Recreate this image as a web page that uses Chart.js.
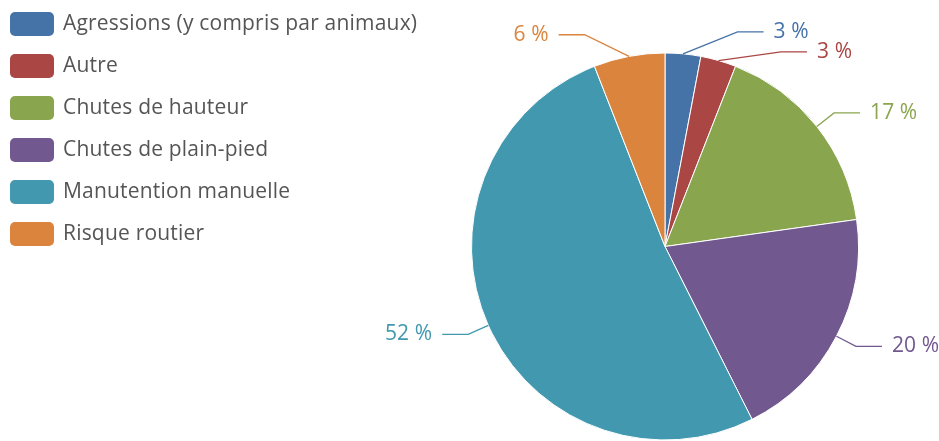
<!DOCTYPE html>
<html>
<head>
<meta charset="utf-8">
<script src="https://cdn.jsdelivr.net/npm/chart.js@4/dist/chart.umd.min.js"></script>
<style>
  html, body { margin: 0; padding: 0; background: #fff; }
  #wrap { width: 939px; height: 441px; position: relative; }
</style>
</head>
<body>
<div id="wrap"><canvas id="accidentChart"></canvas></div>
<script>
// Data
const categories = [
  "Agressions (y compris par animaux)",
  "Autre",
  "Chutes de hauteur",
  "Chutes de plain-pied",
  "Manutention manuelle",
  "Risque routier"
];
const shares = [3, 3, 17, 20, 52, 6];
const sliceColors = ["#4572A7", "#AA4643", "#89A54E", "#71588F", "#4198AF", "#DB843D"];

const FONT = '"Open Sans", "Noto Sans", sans-serif';

// Legend drawn on the left, rounded colour boxes
const sideLegend = {
  id: "sideLegend",
  afterDraw(chart) {
    const ctx = chart.ctx;
    const colors = chart.data.datasets[0].backgroundColor;
    ctx.save();
    ctx.font = "21px " + FONT;
    ctx.letterSpacing = "0.2px";
    ctx.textBaseline = "middle";
    ctx.textAlign = "left";
    chart.data.labels.forEach(function (label, i) {
      const top = 12 + i * 42;
      ctx.fillStyle = colors[i];
      ctx.beginPath();
      ctx.roundRect(10, top, 44, 24, 5);
      ctx.fill();
      ctx.fillStyle = "#555555";
      ctx.fillText(label, 63, top + 12);
    });
    ctx.restore();
  }
};

// Outside labels with leader lines
const pieLabels = {
  id: "pieLabels",
  afterDatasetsDraw(chart) {
    const ctx = chart.ctx;
    const meta = chart.getDatasetMeta(0);
    const ds = chart.data.datasets[0];
    const items = [];
    meta.data.forEach(function (arc, i) {
      const p = arc.getProps(["x", "y", "startAngle", "endAngle", "outerRadius"], true);
      const a = (p.startAngle + p.endAngle) / 2;
      const r = p.outerRadius;
      const r1 = r + 22;
      items.push({
        i: i, a: a, cx: p.x, cy: p.y, r: r,
        side: Math.cos(a) >= 0 ? 1 : -1,
        ey: p.y + r1 * Math.sin(a),
        rx: r1 * Math.cos(a),
        shifted: false
      });
    });

    [1, -1].forEach(function (side) {
      const list = items.filter(function (it) { return it.side === side; })
        .sort(function (a, b) { return a.ey - b.ey; });
      for (let k = 1; k < list.length; k++) {
        if (list[k].ey - list[k - 1].ey < 20) {
          list[k].ey = list[k - 1].ey + 20;
          list[k].shifted = true;
        }
      }
    });

    ctx.save();
    ctx.font = "21px " + FONT;
    ctx.letterSpacing = "0.1px";
    ctx.textBaseline = "middle";
    ctx.lineWidth = 1.3;
    items.forEach(function (it) {
      const color = ds.backgroundColor[it.i];
      let dx = Math.abs(it.rx);
      const dy = it.ey - it.cy;
      const ra = it.r + 33;
      if (it.shifted || Math.abs(Math.cos(it.a)) < 0.5) {
        dx = Math.max(dx, Math.sqrt(Math.max(ra * ra - dy * dy, 0)));
      }
      const sx = it.cx + it.r * Math.cos(it.a);
      const sy = it.cy + it.r * Math.sin(it.a);
      const ex = it.cx + it.side * dx;
      const hx = ex + it.side * 26;
      ctx.strokeStyle = color;
      ctx.beginPath();
      ctx.moveTo(sx, sy);
      ctx.lineTo(ex, it.ey);
      ctx.lineTo(hx, it.ey);
      ctx.stroke();
      ctx.fillStyle = color;
      ctx.textAlign = it.side > 0 ? "left" : "right";
      ctx.fillText(ds.data[it.i] + " %", hx + it.side * 10, it.ey);
    });
    ctx.restore();
  }
};

new Chart(document.getElementById("accidentChart"), {
  type: "pie",
  data: {
    labels: categories,
    datasets: [{
      data: shares,
      backgroundColor: sliceColors,
      borderColor: "#ffffff",
      borderWidth: 1
    }]
  },
  options: {
    responsive: true,
    maintainAspectRatio: false,
    animation: false,
    layout: {
      padding: { top: 52, bottom: 0, left: 471, right: 80 }
    },
    plugins: {
      legend: { display: false },
      tooltip: { enabled: false }
    }
  },
  plugins: [sideLegend, pieLabels]
});
</script>
</body>
</html>
